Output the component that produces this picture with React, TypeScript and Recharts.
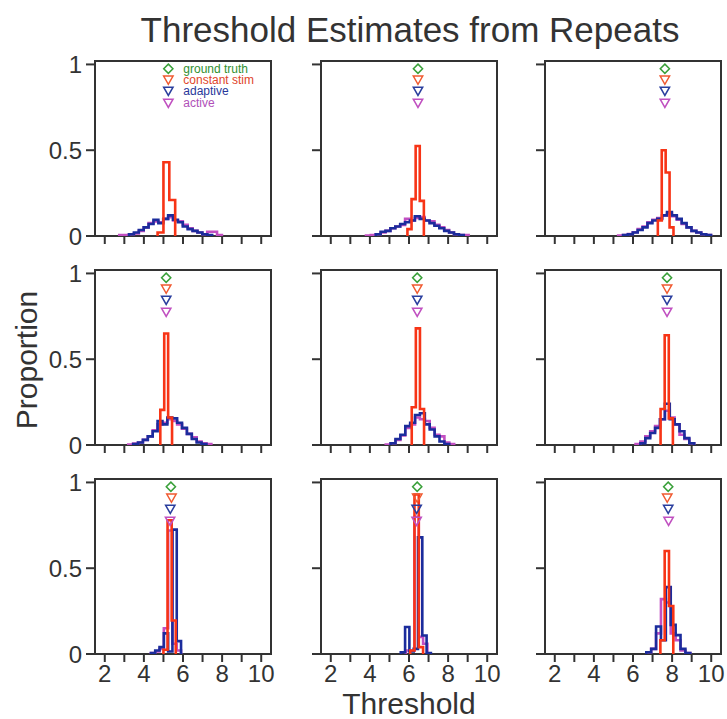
import React from 'react';
import { ComposedChart, Line, Scatter, XAxis, YAxis, ReferenceArea } from 'recharts';

// ---------- data ----------
const xTicks = [2, 3, 4, 5, 6, 7, 8, 9, 10];
const yTicks = [0, 0.5, 1];
const methodNames = ['ground truth', 'constant stim', 'adaptive', 'active'];
const markerLevels = [0.975, 0.91, 0.845, 0.775];

// panel order: row-major (top-left .. bottom-right)
const truthX = [5.25, 6.46, 7.63, 5.14, 6.42, 7.74, 5.38, 6.42, 7.8];
const constMeanX = [5.25, 6.46, 7.63, 5.14, 6.42, 7.74, 5.41, 6.42, 7.75];
const adaptiveMeanX = [5.25, 6.46, 7.63, 5.14, 6.42, 7.74, 5.35, 6.39, 7.8];
const activeMeanX = [5.25, 6.46, 7.63, 5.14, 6.42, 7.74, 5.34, 6.39, 7.82];

// constant stim histograms (first bin edge, bin width, proportions)
const constStart = [4.7, 5.92, 7.27, 4.84, 6.14, 7.41, 5.0, 6.06, 7.4];
const constWidth = [0.3, 0.21, 0.2, 0.2, 0.21, 0.21, 0.21, 0.22, 0.22];
const const11 = [0.02, 0.43, 0.21];
const const12 = [0.04, 0.215, 0.525, 0.205];
const const13 = [0.09, 0.5, 0.37, 0.05];
const const21 = [0.205, 0.65, 0.16];
const const22 = [0.22, 0.68, 0.21];
const const23 = [0.21, 0.64, 0.155];
const const31 = [0.025, 0.78, 0.195];
const const32 = [0.02, 0.93, 0.04];
const const33 = [0.08, 0.6, 0.28];

// adaptive histograms
const adaptiveStart = [3.24, 4.3, 5.49, 3.45, 5.06, 6.38, 4.36, 5.58, 6.68];
const adaptiveWidth = [0.25, 0.25, 0.25, 0.25, 0.25, 0.25, 0.22, 0.22, 0.25];
const adaptive11 = [0.01, 0.02, 0.035, 0.05, 0.07, 0.094, 0.075, 0.1, 0.12, 0.095, 0.08, 0.055, 0.04, 0.03, 0.02, 0.01, 0.005];
const adaptive12 = [0.01, 0.025, 0.03, 0.045, 0.055, 0.07, 0.08, 0.09, 0.115, 0.1, 0.09, 0.075, 0.06, 0.045, 0.03, 0.02, 0.01, 0.005];
const adaptive13 = [0.005, 0.01, 0.02, 0.035, 0.05, 0.075, 0.09, 0.1, 0.12, 0.14, 0.12, 0.1, 0.075, 0.05, 0.03, 0.02, 0.01, 0.005];
const adaptive21 = [0.005, 0.015, 0.03, 0.05, 0.08, 0.14, 0.12, 0.16, 0.155, 0.13, 0.1, 0.065, 0.035, 0.015, 0.005];
const adaptive22 = [0.01, 0.035, 0.06, 0.11, 0.13, 0.175, 0.185, 0.12, 0.09, 0.05, 0.02, 0.005];
const adaptive23 = [0.01, 0.04, 0.07, 0.1, 0.15, 0.24, 0.15, 0.12, 0.08, 0.04, 0.01];
const adaptive31 = [0.005, 0.02, 0.04, 0.12, 0.015, 0.725, 0.075];
const adaptive32 = [0.01, 0.157, 0.015, 0.03, 0.68, 0.108, 0.005];
const adaptive33 = [0.01, 0.03, 0.16, 0.08, 0.39, 0.17, 0.11, 0.03, 0.005];

// active histograms
const activeStart = [2.74, 3.8, 5.24, 3.2, 4.81, 6.13, 4.36, 5.84, 6.68];
const activeWidth = [0.25, 0.25, 0.25, 0.25, 0.25, 0.25, 0.22, 0.22, 0.25];
const active11 = [0.005, 0.005, 0.01, 0.015, 0.03, 0.05, 0.075, 0.085, 0.08, 0.1, 0.11, 0.09, 0.085, 0.065, 0.045, 0.03, 0.02, 0.01, 0.025, 0.025, 0.005];
const active12 = [0.003, 0.005, 0.01, 0.02, 0.03, 0.045, 0.055, 0.065, 0.1, 0.09, 0.105, 0.11, 0.09, 0.085, 0.065, 0.05, 0.035, 0.02, 0.01, 0.005, 0.005];
const active13 = [0.003, 0.005, 0.012, 0.022, 0.04, 0.055, 0.08, 0.095, 0.105, 0.12, 0.13, 0.115, 0.095, 0.07, 0.05, 0.03, 0.02, 0.01, 0.005];
const active21 = [0.003, 0.008, 0.015, 0.03, 0.05, 0.085, 0.12, 0.13, 0.15, 0.14, 0.12, 0.095, 0.065, 0.045, 0.02, 0.01, 0.005];
const active22 = [0.003, 0.01, 0.03, 0.055, 0.1, 0.12, 0.16, 0.15, 0.14, 0.1, 0.06, 0.05, 0.015, 0.005];
const active23 = [0.005, 0.02, 0.05, 0.08, 0.11, 0.15, 0.2, 0.16, 0.12, 0.06, 0.035, 0.01];
const active31 = [0.005, 0.015, 0.03, 0.15, 0.72, 0.06, 0.02];
const active32 = [0.02, 0.02, 0.8, 0.1, 0.06];
const active33 = [0.01, 0.03, 0.12, 0.32, 0.3, 0.12, 0.08, 0.02, 0.005];

const constVals = [const11, const12, const13, const21, const22, const23, const31, const32, const33];
const adaptiveVals = [adaptive11, adaptive12, adaptive13, adaptive21, adaptive22, adaptive23, adaptive31, adaptive32, adaptive33];
const activeVals = [active11, active12, active13, active21, active22, active23, active31, active32, active33];

// ---------- styling ----------
const LINE_RED = '#f73416';
const LINE_BLUE = '#1b2c9c';
const LINE_MAGENTA = '#c24fc2';
const MARKER_COLORS = ['#39a039', '#f05a30', '#2a3e9e', '#c050c0'];
const TEXT_COLORS = ['#2f8f2f', '#e0452a', '#28389a', '#b050b8'];
const AX = '#333333';

const PLOT_W = 176;
const PLOT_H = 175;
const colLeft = [95, 321, 545];
const rowTop = [61, 270, 479];
const YW = 80;
const XH = 40;
const PAD = 4;
const TOP = 16;

function stepPoints(start: number, width: number, vals: number[]) {
  const pts: { x: number; y: number }[] = [{ x: start, y: 0 }];
  vals.forEach((v, i) => {
    pts.push({ x: start + i * width, y: v });
    pts.push({ x: start + (i + 1) * width, y: v });
  });
  pts.push({ x: start + vals.length * width, y: 0 });
  return pts;
}

function MarkerShape(props: any) {
  const { cx, cy, payload } = props;
  if (cx == null || cy == null) return <g />;
  const k = payload.kind as number;
  const col = MARKER_COLORS[k];
  const s = 4.6;
  const shape =
    k === 0 ? (
      <polygon
        points={`${cx},${cy - s} ${cx + s},${cy} ${cx},${cy + s} ${cx - s},${cy}`}
        fill="none"
        stroke={col}
        strokeWidth={1.5}
      />
    ) : (
      <polygon
        points={`${cx - 4.7},${cy - 3.8} ${cx + 4.7},${cy - 3.8} ${cx},${cy + 4.4}`}
        fill="none"
        stroke={col}
        strokeWidth={1.5}
      />
    );
  return (
    <g>
      {shape}
      {payload.showText ? (
        <text x={cx + 15} y={cy} dominantBaseline="central" fontSize={12} fill={TEXT_COLORS[k]}>
          {methodNames[k]}
        </text>
      ) : null}
    </g>
  );
}

function Panel({ idx }: { idx: number }) {
  const r = Math.floor(idx / 3);
  const c = idx % 3;
  const left = colLeft[c] - YW;
  const top = rowTop[r] - TOP;
  const width = YW + PLOT_W + PAD;
  const height = TOP + PLOT_H + XH;
  const bottomRow = r === 2;
  const leftCol = c === 0;

  const redPts = stepPoints(constStart[idx], constWidth[idx], constVals[idx]);
  const bluePts = stepPoints(adaptiveStart[idx], adaptiveWidth[idx], adaptiveVals[idx]);
  const magPts = stepPoints(activeStart[idx], activeWidth[idx], activeVals[idx]);
  const meanXs = [truthX[idx], constMeanX[idx], adaptiveMeanX[idx], activeMeanX[idx]];
  const markers = meanXs.map((x, k) => ({ x, y: markerLevels[k], kind: k, showText: idx === 0 }));

  return (
    <div style={{ position: 'absolute', left, top }}>
      <ComposedChart width={width} height={height} margin={{ top: TOP, right: PAD, left: 0, bottom: 0 }}>
        <XAxis
          type="number"
          dataKey="x"
          domain={[1.5, 10.5]}
          ticks={xTicks}
          interval={0}
          height={XH}
          allowDataOverflow
          axisLine={false}
          tickSize={8}
          tickMargin={3}
          tickLine={{ stroke: AX, strokeWidth: 2 }}
          tick={{ fontSize: 24, fill: AX }}
          tickFormatter={(v: number) => (bottomRow && v % 2 === 0 ? String(v) : '')}
        />
        <YAxis
          type="number"
          domain={[0, 1.02]}
          ticks={yTicks}
          interval={0}
          width={YW}
          allowDataOverflow
          axisLine={false}
          tickSize={9}
          tickMargin={4}
          tickLine={{ stroke: AX, strokeWidth: 2 }}
          tick={{ fontSize: 24, fill: AX }}
          tickFormatter={(v: number) => (leftCol ? String(v) : '')}
        />
        <ReferenceArea x1={1.5} x2={10.5} y1={0} y2={1.02} fill="none" stroke={AX} strokeWidth={2} ifOverflow="visible" />
        <Line data={magPts} dataKey="y" type="linear" stroke={LINE_MAGENTA} strokeWidth={2.6} dot={false} isAnimationActive={false} />
        <Line data={bluePts} dataKey="y" type="linear" stroke={LINE_BLUE} strokeWidth={2.6} dot={false} isAnimationActive={false} />
        <Line data={redPts} dataKey="y" type="linear" stroke={LINE_RED} strokeWidth={2.6} dot={false} isAnimationActive={false} />
        <Scatter data={markers} dataKey="y" shape={(p: any) => <MarkerShape {...p} />} isAnimationActive={false} />
      </ComposedChart>
    </div>
  );
}

export default function App() {
  return (
    <div
      style={{
        position: 'absolute',
        left: 0,
        top: 0,
        width: 727,
        height: 719,
        background: '#ffffff',
        fontFamily: '"Liberation Sans", Arial, Helvetica, sans-serif',
        overflow: 'hidden',
      }}
    >
      {[0, 1, 2, 3, 4, 5, 6, 7, 8].map((i) => (
        <Panel key={i} idx={i} />
      ))}
      <svg width={727} height={719} style={{ position: 'absolute', left: 0, top: 0, pointerEvents: 'none' }}>
        <text x={410} y={42} textAnchor="middle" fontSize={35} fill={AX}>
          Threshold Estimates from Repeats
        </text>
        <text
          x={0}
          y={0}
          transform="translate(37,360) rotate(-90)"
          textAnchor="middle"
          fontSize={30}
          fill={AX}
        >
          Proportion
        </text>
        <text x={409} y={714} textAnchor="middle" fontSize={30} fill={AX}>
          Threshold
        </text>
      </svg>
    </div>
  );
}
